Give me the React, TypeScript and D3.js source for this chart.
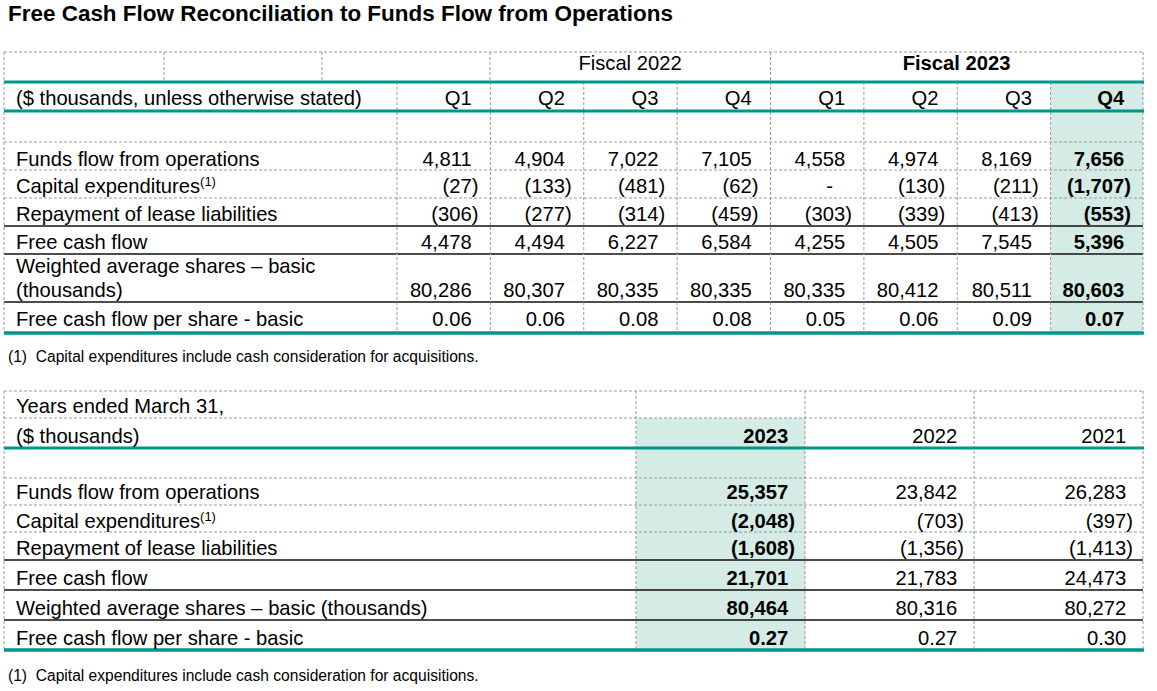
import React from "react";
import * as d3 from "d3";

// ---------- data ----------
const title = "Free Cash Flow Reconciliation to Funds Flow from Operations";
const footnote = "(1)  Capital expenditures include cash consideration for acquisitions.";

const fiscalGroups = ["Fiscal 2022", "Fiscal 2023"];
const quarters = ["Q1", "Q2", "Q3", "Q4", "Q1", "Q2", "Q3", "Q4"];
const qFundsFlow = [4811, 4904, 7022, 7105, 4558, 4974, 8169, 7656];
const qCapex = [-27, -133, -481, -62, 0, -130, -211, -1707];
const qLease = [-306, -277, -314, -459, -303, -339, -413, -553];
const qFreeCashFlow = [4478, 4494, 6227, 6584, 4255, 4505, 7545, 5396];
const qShares = [80286, 80307, 80335, 80335, 80335, 80412, 80511, 80603];
const qPerShare = [0.06, 0.06, 0.08, 0.08, 0.05, 0.06, 0.09, 0.07];

const years = ["2023", "2022", "2021"];
const yFundsFlow = [25357, 23842, 26283];
const yCapex = [-2048, -703, -397];
const yLease = [-1608, -1356, -1413];
const yFreeCashFlow = [21701, 21783, 24473];
const yShares = [80464, 80316, 80272];
const yPerShare = [0.27, 0.27, 0.3];

const rowLabels = [
  "Funds flow from operations",
  "Capital expenditures",
  "Repayment of lease liabilities",
  "Free cash flow",
  "Weighted average shares – basic (thousands)",
  "Free cash flow per share - basic",
];

// ---------- style ----------
const FONT = "'Liberation Sans', Arial, Helvetica, sans-serif";
const FS = 20.2;
const TEAL = "#00968a";
const HIGHLIGHT = "#d5ebe5";
const DASH = "#9a9a9a";
const PAREN_W = FS * 0.333;

const fmtInt = d3.format(",");
const fmt2 = d3.format(".2f");

function formatVal(v: number, kind: string) {
  if (kind === "ps") return fmt2(v);
  if (v === 0) return "-";
  if (v < 0) return "(" + fmtInt(-v) + ")";
  return fmtInt(v);
}

function ValueText({ v, kind, right, y, bold, padR }: any) {
  const s = formatVal(v, kind);
  let x = right - padR;
  if (s === "-") x = right - padR - 19;
  else if (!s.startsWith("(")) x = right - padR - PAREN_W;
  return (
    <text x={x} y={y} textAnchor="end" fontWeight={bold ? "bold" : "normal"}>
      {s}
    </text>
  );
}

function HLine({ x1, x2, y, type }: any) {
  if (type === "teal")
    return <line x1={x1} x2={x2} y1={y} y2={y} stroke={TEAL} strokeWidth={3} />;
  if (type === "solid")
    return <line x1={x1} x2={x2} y1={y} y2={y} stroke="#111" strokeWidth={1.3} />;
  return (
    <line x1={x1} x2={x2} y1={y} y2={y} stroke={DASH} strokeWidth={1} strokeDasharray="3,2" />
  );
}

function VLine({ x, y1, y2 }: any) {
  return <line x1={x} x2={x} y1={y1} y2={y2} stroke={DASH} strokeWidth={1} strokeDasharray="3,2" />;
}

function Label({ text, x, y }: any) {
  if (text === "Capital expenditures") {
    return (
      <text x={x} y={y}>
        {text}
        <tspan dy={-7} fontSize={13}>(1)</tspan>
      </text>
    );
  }
  return (
    <text x={x} y={y}>
      {text}
    </text>
  );
}

export default function App() {
  const L = 4;
  const R = 1143;

  // ---------- top table ----------
  const xTop = d3.scaleBand<number>().domain(d3.range(quarters.length)).range([397, R + 1]);
  const xGroup = d3.scaleOrdinal<string, [number, number]>()
    .domain(fiscalGroups)
    .range([[490, 770], [770, R]]);
  const topValues = [qFundsFlow, qCapex, qLease, qFreeCashFlow, qShares, qPerShare];
  const topKinds = ["int", "int", "int", "int", "int", "ps"];
  const tY = { top: 52, h1: 82, h2: 111, blank: 142 };
  const tRowBottoms = [170, 198, 226, 254, 302, 333];
  const tBaselines = [166, 193, 221, 249, 297, 326];
  const tLineTypes = ["dash", "dash", "solid", "solid", "solid", "teal"];
  const hiTop = quarters.length - 1;

  // ---------- bottom table ----------
  const xBot = d3.scaleBand<number>().domain(d3.range(years.length)).range([636, R]);
  const botValues = [yFundsFlow, yCapex, yLease, yFreeCashFlow, yShares, yPerShare];
  const bY = { top: 391, h1: 418, h2: 448, blank: 478 };
  const bRowBottoms = [505, 532, 560, 590, 620, 650];
  const bBaselines = [499, 528, 555, 585, 615, 645];
  const bLineTypes = ["dash", "dash", "solid", "solid", "solid", "teal"];
  const hiBot = 0;

  return (
    <svg
      width={1157}
      height={691}
      style={{ position: "absolute", left: 0, top: 0, background: "#fff" }}
      fontFamily={FONT}
      fontSize={FS}
      fill="#000"
    >
      {/* title */}
      <text x={8} y={21} fontWeight="bold" fontSize={22} textLength={665} lengthAdjust="spacingAndGlyphs">
        {title}
      </text>

      {/* ===== top table ===== */}
      <rect
        x={xTop(hiTop)}
        y={tY.h1}
        width={R - (xTop(hiTop) as number)}
        height={tRowBottoms[5] - tY.h1}
        fill={HIGHLIGHT}
      />
      <HLine x1={L} x2={R} y={tY.top} type="dash" />
      <HLine x1={L} x2={R} y={tY.blank} type="dash" />
      {tRowBottoms.map((y, i) => (
        <HLine key={i} x1={L} x2={R} y={y} type={tLineTypes[i]} />
      ))}
      <VLine x={L} y1={tY.top} y2={tRowBottoms[5]} />
      <VLine x={164} y1={tY.top} y2={tY.h1} />
      <VLine x={322} y1={tY.top} y2={tY.h1} />
      <VLine x={397} y1={tY.h1} y2={tRowBottoms[5]} />
      {xTop.domain().map((i) => (
        <VLine
          key={i}
          x={i === 7 ? R : (xTop(i) as number) + xTop.bandwidth()}
          y1={i === 3 || i === 7 ? tY.top : tY.h1}
          y2={tRowBottoms[5]}
        />
      ))}
      <VLine x={490} y1={tY.top} y2={tY.h1} />
      <HLine x1={L} x2={R + 1} y={tY.h1} type="teal" />
      <HLine x1={L} x2={R + 1} y={tY.h2} type="teal" />
      <HLine x1={L} x2={R + 1} y={tRowBottoms[5]} type="teal" />

      {fiscalGroups.map((g, i) => {
        const [a, b] = xGroup(g);
        return (
          <text key={g} x={(a + b) / 2} y={70} textAnchor="middle" fontWeight={i === 1 ? "bold" : "normal"}>
            {g}
          </text>
        );
      })}
      <text x={16} y={105}>($ thousands, unless otherwise stated)</text>
      {quarters.map((q, i) => (
        <text
          key={i}
          x={Math.min((xTop(i) as number) + xTop.bandwidth(), R) - 12 - PAREN_W}
          y={105}
          textAnchor="end"
          fontWeight={i === hiTop ? "bold" : "normal"}
        >
          {q}
        </text>
      ))}
      {rowLabels.map((lab, r) =>
        r === 4 ? (
          <g key={r}>
            <text x={16} y={273}>Weighted average shares – basic</text>
            <text x={16} y={297}>(thousands)</text>
          </g>
        ) : (
          <Label key={r} text={lab} x={16} y={tBaselines[r]} />
        )
      )}
      {topValues.map((vals, r) =>
        vals.map((v, i) => (
          <ValueText
            key={r + "-" + i}
            v={v}
            kind={topKinds[r]}
            right={Math.min((xTop(i) as number) + xTop.bandwidth(), R)}
            y={tBaselines[r]}
            bold={i === hiTop}
            padR={12}
          />
        ))
      )}
      <text x={8} y={362} fontSize={15.6} style={{ whiteSpace: "pre" }}>{footnote}</text>

      {/* ===== bottom table ===== */}
      <rect
        x={xBot(hiBot)}
        y={bY.h1}
        width={xBot.bandwidth()}
        height={bRowBottoms[5] - bY.h1}
        fill={HIGHLIGHT}
      />
      <HLine x1={L} x2={R} y={bY.top} type="dash" />
      <HLine x1={L} x2={R} y={bY.h1} type="dash" />
      <HLine x1={L} x2={R} y={bY.blank} type="dash" />
      {bRowBottoms.map((y, i) => (
        <HLine key={i} x1={L} x2={R} y={y} type={bLineTypes[i]} />
      ))}
      <VLine x={L} y1={bY.top} y2={bRowBottoms[5]} />
      <VLine x={xBot(0)} y1={bY.top} y2={bRowBottoms[5]} />
      {xBot.domain().map((i) => (
        <VLine key={i} x={(xBot(i) as number) + xBot.bandwidth()} y1={bY.top} y2={bRowBottoms[5]} />
      ))}
      <HLine x1={L} x2={R + 1} y={bY.h2} type="teal" />
      <HLine x1={L} x2={R + 1} y={bRowBottoms[5]} type="teal" />

      <text x={16} y={413}>Years ended March 31,</text>
      <text x={16} y={443}>($ thousands)</text>
      {years.map((yv, i) => (
        <text
          key={yv}
          x={(xBot(i) as number) + xBot.bandwidth() - 10 - PAREN_W}
          y={443}
          textAnchor="end"
          fontWeight={i === hiBot ? "bold" : "normal"}
        >
          {yv}
        </text>
      ))}
      {rowLabels.map((lab, r) => (
        <Label key={r} text={lab} x={16} y={bBaselines[r]} />
      ))}
      {botValues.map((vals, r) =>
        vals.map((v, i) => (
          <ValueText
            key={r + "-" + i}
            v={v}
            kind={r === 5 ? "ps" : "int"}
            right={(xBot(i) as number) + xBot.bandwidth()}
            y={bBaselines[r]}
            bold={i === hiBot}
            padR={10}
          />
        ))
      )}
      <text x={8} y={681} fontSize={15.6} style={{ whiteSpace: "pre" }}>{footnote}</text>
    </svg>
  );
}
